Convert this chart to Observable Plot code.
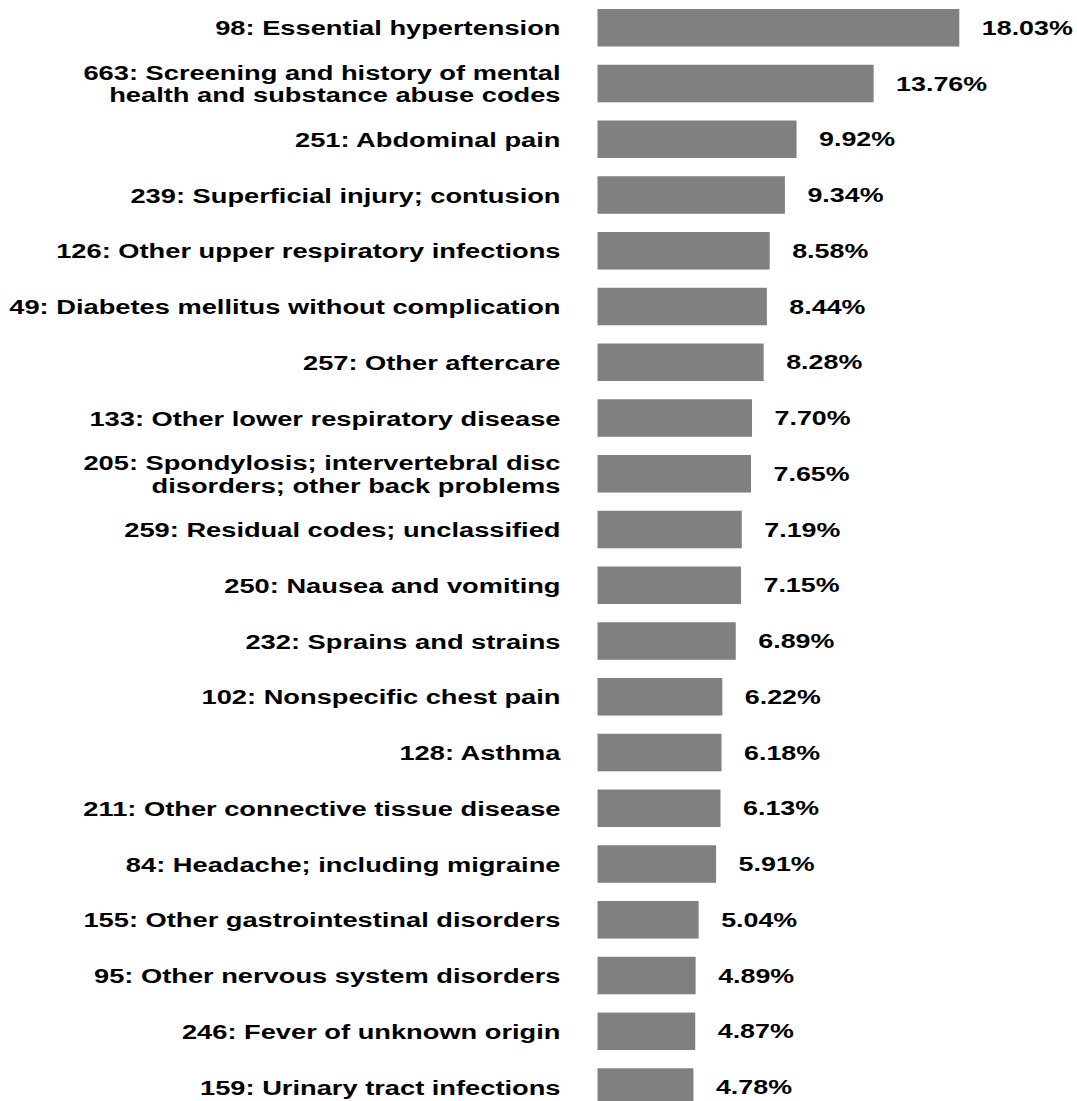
<!DOCTYPE html>
<html>
<head>
<meta charset="utf-8">
<script src="https://cdn.jsdelivr.net/npm/d3@7"></script>
<script src="https://cdn.jsdelivr.net/npm/@observablehq/plot@0.6"></script>
<style>
  html, body { margin: 0; padding: 0; background: #fff; overflow: hidden; }
  svg { display: block; }
</style>
</head>
<body>
<div id="chart"></div>
<script>
const categories = [
  "98: Essential hypertension",
  "663: Screening and history of mental\nhealth and substance abuse codes",
  "251: Abdominal pain",
  "239: Superficial injury; contusion",
  "126: Other upper respiratory infections",
  "49: Diabetes mellitus without complication",
  "257: Other aftercare",
  "133: Other lower respiratory disease",
  "205: Spondylosis; intervertebral disc\ndisorders; other back problems",
  "259: Residual codes; unclassified",
  "250: Nausea and vomiting",
  "232: Sprains and strains",
  "102: Nonspecific chest pain",
  "128: Asthma",
  "211: Other connective tissue disease",
  "84: Headache; including migraine",
  "155: Other gastrointestinal disorders",
  "95: Other nervous system disorders",
  "246: Fever of unknown origin",
  "159: Urinary tract infections"
];
const values = [18.03, 13.76, 9.92, 9.34, 8.58, 8.44, 8.28, 7.70, 7.65, 7.19,
                7.15, 6.89, 6.22, 6.18, 6.13, 5.91, 5.04, 4.89, 4.87, 4.78];

const data = categories.map((c, i) => ({category: c, value: values[i]}));

const chart = Plot.plot({
  width: 1077,
  height: 1101,
  marginLeft: 597.5,
  marginRight: 1077 - 959.3,
  marginTop: 0,
  marginBottom: 0,
  style: {fontFamily: "'Liberation Sans', Arial, sans-serif", background: "#fff"},
  x: {domain: [0, 18.03], axis: null},
  y: {domain: categories, range: [9, 1105.8], paddingInner: 0.327, paddingOuter: 0, round: false, axis: null},
  marks: [
    Plot.barX(data, {x: "value", y: "category", fill: "#808080"}),
    Plot.text(data, {
      x: 0, y: "category", text: "category",
      textAnchor: "end", dx: -37.5, lineHeight: 1.09,
      fontSize: 20.5, fontWeight: "bold", fill: "#000",
      className: "cat-label"
    }),
    Plot.text(data, {
      x: "value", y: "category", text: d => d.value.toFixed(2) + "%",
      textAnchor: "start", dx: 22,
      fontSize: 20.5, fontWeight: "bold", fill: "#000",
      className: "val-label"
    })
  ]
});
// the reference's lettering is horizontally stretched
function stretch(sel, k) {
  chart.querySelectorAll(sel).forEach(t => {
    const tr = t.getAttribute("transform") || "";
    t.setAttribute("transform", tr + ` scale(${k},1)`);
  });
}
stretch(".cat-label text", 1.33);
stretch(".val-label text", 1.31);
document.getElementById("chart").appendChild(chart);
</script>
</body>
</html>
